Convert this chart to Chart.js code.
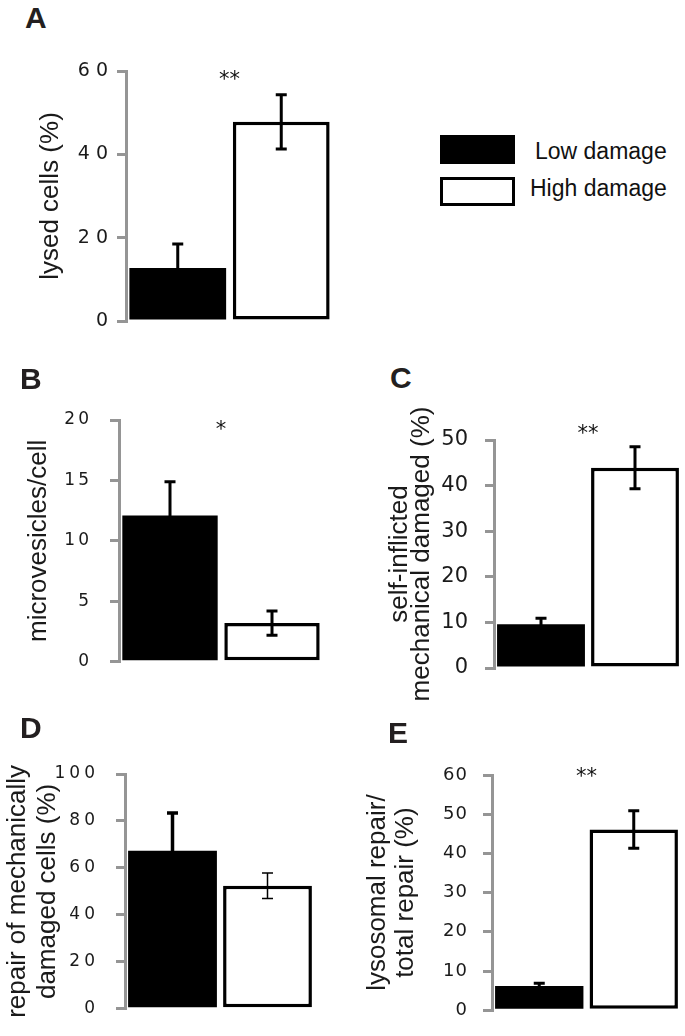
<!DOCTYPE html>
<html>
<head>
<meta charset="utf-8">
<script src="https://cdn.jsdelivr.net/npm/chart.js@4.4.1/dist/chart.umd.min.js"></script>
<style>
  body { margin: 0; background: #fff; }
  #fig { position: relative; width: 685px; height: 1036px; overflow: hidden; background: #fff; }
  canvas { position: absolute; }
  .letter { position: absolute; font: bold 30px "Liberation Sans", Arial, sans-serif; line-height: 30px; color: #231f20; }
  .key { position: absolute; left: 440px; width: 75px; height: 29px; box-sizing: border-box; }
  .keytext { position: absolute; font: 23px "Liberation Sans", Arial, sans-serif; line-height: 23px; color: #111; white-space: nowrap; }
</style>
</head>
<body>
<div id="fig">
  <canvas id="chartA" width="345" height="300" style="left:0;top:40px"></canvas>
  <canvas id="chartB" width="340" height="300" style="left:0;top:390px"></canvas>
  <canvas id="chartC" width="340" height="305" style="left:345px;top:395px"></canvas>
  <canvas id="chartD" width="340" height="291" style="left:0;top:745px"></canvas>
  <canvas id="chartE" width="340" height="291" style="left:345px;top:745px"></canvas>

  <div class="letter" style="left:25px;top:3px">A</div>
  <div class="letter" style="left:20px;top:364px">B</div>
  <div class="letter" style="left:390px;top:363px">C</div>
  <div class="letter" style="left:20px;top:713px">D</div>
  <div class="letter" style="left:388px;top:718px">E</div>

  <div class="key" style="top:135px;background:#000"></div>
  <div class="key" style="top:177px;background:#fff;border:3.5px solid #000"></div>
  <div class="keytext" style="left:535px;top:140px">Low damage</div>
  <div class="keytext" style="left:530px;top:177px">High damage</div>
</div>
<script>
// groups shown in every panel
const groups = ['Low damage', 'High damage'];

// A: lysed cells (%)
const lysedCells = [12.7, 47.8];
const lysedCellsErr = [5.8, 6.5];

// B: microvesicles/cell
const microvesicles = [12.1, 3.2];
const microvesiclesErr = [2.8, 1.0];

// C: self-inflicted mechanical damage (%)
const selfInflicted = [9.6, 43.9];
const selfInflictedErr = [1.3, 4.6];

// D: repair of mechanically damaged cells (%)
const repairMech = [67.3, 52.4];
const repairMechErr = [16.1, 5.4];

// E: lysosomal repair / total repair (%)
const lysosomalRepair = [6.2, 46.1];
const lysosomalRepairErr = [0.7, 4.8];

// significance marks (panel order A..E) and the value they sit at
const stars = ['**', '*', '**', '', '**'];
const starValues = [57.8, 19.1, 51.2, null, 59.3];

const axisGray = '#959595';

const errorBars = {
  id: 'errorBars',
  afterDatasetsDraw(chart, args, opts) {
    const ctx = chart.ctx;
    const y = chart.scales.y;
    const ds = chart.data.datasets[0];
    const meta = chart.getDatasetMeta(0);
    ctx.save();
    ctx.strokeStyle = '#000';
    meta.data.forEach((bar, i) => {
      const hi = y.getPixelForValue(ds.data[i] + ds.errors[i]);
      const lo = y.getPixelForValue(ds.data[i] - ds.errors[i]);
      ctx.lineWidth = opts.widths[i];
      ctx.beginPath();
      ctx.moveTo(bar.x, hi); ctx.lineTo(bar.x, lo);
      ctx.moveTo(bar.x - opts.cap, hi); ctx.lineTo(bar.x + opts.cap, hi);
      ctx.moveTo(bar.x - opts.cap, lo); ctx.lineTo(bar.x + opts.cap, lo);
      ctx.stroke();
    });
    if (opts.star) {
      ctx.fillStyle = '#111';
      ctx.font = '21px "DejaVu Sans"';
      ctx.textAlign = 'center';
      ctx.textBaseline = 'middle';
      ctx.fillText(opts.star, chart.scales.x.getPixelForValue(0.5), y.getPixelForValue(opts.starAt));
    }
    ctx.restore();
    // tick labels are drawn after this hook (ticks.z = 1)
    ctx.letterSpacing = (opts.tickSpacing || 0) + 'px';
  },
  afterDraw(chart) {
    chart.ctx.letterSpacing = '0px';
  }
};

function makePanel(id, values, errs, cfg) {
  new Chart(document.getElementById(id), {
    type: 'bar',
    data: {
      labels: groups,
      datasets: [{
        data: values,
        errors: errs,
        backgroundColor: ['#000', '#fff'],
        borderColor: '#000',
        borderWidth: [0, 3.5],
        borderSkipped: false,
        barPercentage: 0.935,
        categoryPercentage: 1
      }]
    },
    options: {
      responsive: false,
      animation: false,
      devicePixelRatio: 1,
      layout: { padding: cfg.pad },
      plugins: {
        legend: { display: false },
        tooltip: { enabled: false },
        errorBars: {
          widths: cfg.errWidths || [3, 3],
          cap: 5.5,
          star: cfg.star,
          starAt: cfg.starAt,
          tickSpacing: cfg.tickSpacing
        }
      },
      scales: {
        x: { display: false },
        y: {
          min: 0,
          max: cfg.max,
          afterFit(scale) { scale.width = cfg.axisWidth; },
          ticks: {
            stepSize: cfg.step,
            padding: cfg.tickPad,
            color: '#1a1a1a',
            z: 1,
            font: { family: 'DejaVu Sans', size: cfg.tickSize }
          },
          grid: {
            drawOnChartArea: false,
            color: axisGray,
            tickColor: axisGray,
            lineWidth: 3,
            tickWidth: 3,
            tickLength: 9
          },
          border: { color: axisGray, width: 3 },
          title: {
            display: true,
            text: cfg.title,
            color: '#1a1a1a',
            padding: { top: cfg.titlePad, bottom: 0 },
            font: { family: 'Liberation Sans', size: 26, lineHeight: cfg.titleLH || 1.15 }
          }
        }
      }
    },
    plugins: [errorBars]
  });
}

makePanel('chartA', lysedCells, lysedCellsErr, {
  pad: { left: 0, top: 31, right: 12, bottom: 19 },
  axisWidth: 126, max: 60, step: 20,
  tickSize: 19, tickSpacing: 6, tickPad: 3,
  title: 'lysed cells (%)', titlePad: 36,
  star: stars[0], starAt: starValues[0]
});

makePanel('chartB', microvesicles, microvesiclesErr, {
  pad: { left: 0, top: 30, right: 17, bottom: 22 },
  axisWidth: 119, max: 20, step: 5,
  tickSize: 17, tickSpacing: 3, tickPad: 18,
  title: 'microvesicles/cell', titlePad: 24,
  star: stars[1], starAt: starValues[1]
});

makePanel('chartC', selfInflicted, selfInflictedErr, {
  pad: { left: 0, top: 45, right: 3, bottom: 32 },
  axisWidth: 149, max: 50, step: 10,
  tickSize: 21, tickSpacing: 0, tickPad: 17,
  title: ['self-inflicted', 'mechanical damaged (%)'], titlePad: 43, titleLH: 0.88,
  star: stars[2], starAt: starValues[2]
});

makePanel('chartD', repairMech, repairMechErr, {
  pad: { left: 0, top: 29, right: 25, bottom: 14 },
  axisWidth: 125, max: 100, step: 20,
  tickSize: 17, tickSpacing: 4, tickPad: 17,
  title: ['repair of mechanically', 'damaged cells (%)'], titlePad: 3,
  errWidths: [3.5, 1.5],
  star: stars[3], starAt: starValues[3]
});

makePanel('chartE', lysosomalRepair, lysosomalRepairErr, {
  pad: { left: 0, top: 30, right: 4, bottom: 13 },
  axisWidth: 147, max: 60, step: 10,
  tickSize: 18, tickSpacing: 1, tickPad: 15,
  title: ['lysosomal repair/', 'total repair (%)'], titlePad: 19, titleLH: 1.08,
  star: stars[4], starAt: starValues[4]
});
</script>
</body>
</html>
